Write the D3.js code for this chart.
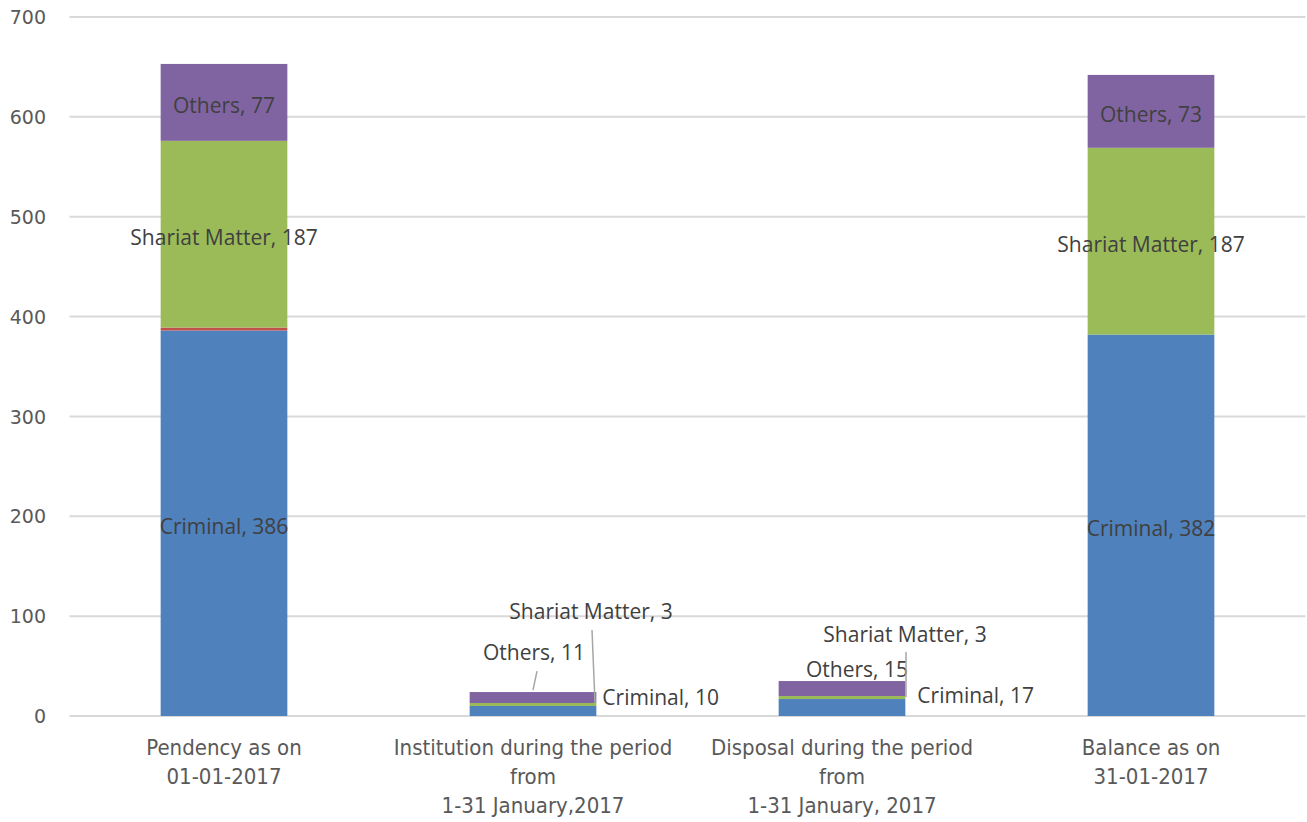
<!DOCTYPE html>
<html><head><meta charset="utf-8">
<script src="https://cdn.jsdelivr.net/npm/d3@7"></script>
<style>
body{margin:0;background:#fff;}
svg{display:block;}
</style></head>
<body>
<svg id="chart" width="1307" height="822"></svg>
<script>
const categories = [
  ["Pendency as on", "01-01-2017"],
  ["Institution during the period", "from", "1-31 January,2017"],
  ["Disposal during the period", "from", "1-31 January, 2017"],
  ["Balance as on", "31-01-2017"]
];
const seriesNames = ["Criminal", "Civil", "Shariat Matter", "Others"];
const criminal = [386, 10, 17, 382];
const civil = [3, 0, 0, 0];
const shariat = [187, 3, 3, 187];
const others = [77, 11, 15, 73];
const yTicks = [0, 100, 200, 300, 400, 500, 600, 700];
const colors = ["#4f81bd", "#c0504d", "#9bbb59", "#8064a2"];

const svg = d3.select("#chart");
const x0 = 69.5, x1 = 1305.5, yTop = 17, yBot = 716;

const x = d3.scaleBand().domain(d3.range(categories.length)).range([x0, x1]).paddingInner(0.59).paddingOuter(0.295);
const y = d3.scaleLinear().domain([0, 700]).range([yBot, yTop]);

// gridlines
svg.append("g").selectAll("line").data(yTicks).join("line")
  .attr("x1", x0).attr("x2", x1)
  .attr("y1", d => y(d)).attr("y2", d => y(d))
  .attr("stroke", "#d9d9d9").attr("stroke-width", 2);

// y axis labels
const yAxis = d3.axisLeft(y).tickValues(yTicks).tickSize(0).tickPadding(0);
const ya = svg.append("g").attr("transform", "translate(46,0)").call(yAxis);
ya.select(".domain").remove();
ya.selectAll("text").attr("fill", "#595959").style("font-size", "19px")
  .style("font-family", "'DejaVu Sans', sans-serif").attr("dy", "0.35em");

// stack
const rows = categories.map((c, i) => ({i, "Criminal": criminal[i], "Civil": civil[i], "Shariat Matter": shariat[i], "Others": others[i]}));
const stack = d3.stack().keys(seriesNames)(rows);

svg.append("g").selectAll("g").data(stack).join("g")
  .attr("fill", (d, k) => colors[k])
  .selectAll("rect").data(d => d).join("rect")
  .attr("x", d => x(d.data.i))
  .attr("width", x.bandwidth())
  .attr("y", d => y(d[1]))
  .attr("height", d => Math.max(0, y(d[0]) - y(d[1])));

// labels
const labelFont = "'Open Sans', 'Noto Sans', sans-serif";
const lg = svg.append("g").style("font-family", labelFont).style("font-size", "21px").attr("fill", "#404040");
const leaders = svg.append("g").attr("stroke", "#a6a6a6").attr("stroke-width", 1.5);
// placement rules for labels of small bars (offsets relative to bar centre / bar top)
const smallPlacement = {
  "1-Criminal": {mode: "right", dx: 6, dy: -13},
  "1-Shariat Matter": {mode: "abs", cx: 58, ty: -80, line: [[62, 11], [59, -62]]},
  "1-Others": {mode: "abs", cx: 1, ty: -39, line: [[0, -2], [4, -21]]},
  "2-Criminal": {mode: "right", dx: 12, dy: -12},
  "2-Shariat Matter": {mode: "abs", cx: 63, ty: -46, line: [[64, 16], [64, -29]]},
  "2-Others": {mode: "abs", cx: 15, ty: -11, line: null}
};
stack.forEach((s, k) => {
  s.forEach(d => {
    const i = d.data.i;
    const v = d[1] - d[0];
    if (v <= 0 || s.key === "Civil") return;
    const txt = s.key + ", " + v;
    const cx = x(i) + x.bandwidth() / 2;
    const key = i + "-" + s.key;
    const barMid = (y(d[0]) + y(d[1])) / 2;
    if (smallPlacement[key]) {
      const p = smallPlacement[key];
      const barTop = y(rows[i]["Criminal"] + rows[i]["Civil"] + rows[i]["Shariat Matter"] + rows[i]["Others"]);
      if (p.mode === "right") {
        lg.append("text").attr("x", x(i) + x.bandwidth() + p.dx).attr("y", barMid + p.dy)
          .attr("dy", "0.35em").text(txt);
      } else {
        if (p.line) {
          leaders.append("line")
            .attr("x1", cx + p.line[0][0]).attr("y1", barTop + p.line[0][1])
            .attr("x2", cx + p.line[1][0]).attr("y2", barTop + p.line[1][1]);
        }
        lg.append("text").attr("x", cx + p.cx).attr("y", barTop + p.ty)
          .attr("text-anchor", "middle").attr("dy", "0.35em").text(txt);
      }
    } else {
      lg.append("text").attr("x", cx).attr("y", barMid + 3)
        .attr("text-anchor", "middle").attr("dy", "0.35em").text(txt);
    }
  });
});

// category labels
const cg = svg.append("g").style("font-family", "'Liberation Sans Narrow', 'DejaVu Sans Condensed', sans-serif")
  .style("font-size", "22px").attr("fill", "#595959");
categories.forEach((lines, i) => {
  const t = cg.append("text").attr("x", x(i) + x.bandwidth() / 2).attr("y", 755).attr("text-anchor", "middle");
  lines.forEach((l, j) => t.append("tspan").attr("x", x(i) + x.bandwidth() / 2).attr("dy", j === 0 ? 0 : 29).text(l));
});
</script>
</body></html>
